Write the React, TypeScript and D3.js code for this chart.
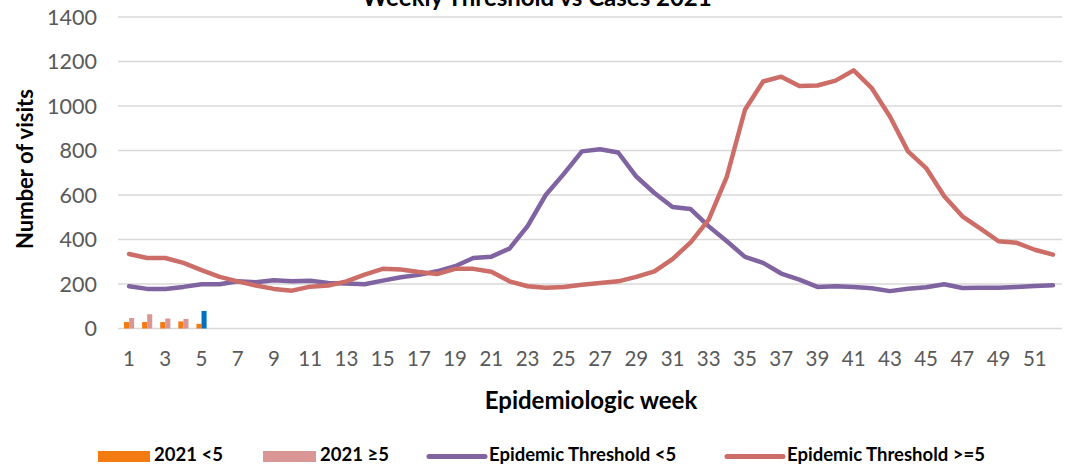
import React from "react";
import * as d3 from "d3";

// Epidemiologic weeks 1..52
const weeks: number[] = d3.range(1, 53);

// Weekly epidemic thresholds (visits)
const thresholdUnder5: number[] = [
  190, 178, 178, 187, 199, 199, 212, 208, 217, 212,
  215, 205, 202, 199, 215, 230, 241, 257, 280, 317,
  323, 359, 460, 600, 695, 796, 806, 791, 683, 609,
  546, 537, 459, 392, 322, 295, 247, 220, 187, 190,
  187, 181, 168, 179, 185, 199, 182, 183, 183, 187,
  191, 194,
];
const thresholdOver5: number[] = [
  335, 317, 317, 295, 262, 232, 212, 193, 178, 170,
  188, 193, 212, 242, 268, 265, 254, 245, 268, 268,
  255, 212, 190, 183, 187, 197, 205, 212, 232, 257,
  312, 387, 489, 683, 983, 1110, 1132, 1090, 1092, 1114,
  1160, 1080, 953, 796, 721, 594, 504, 449, 392, 385,
  354, 332,
];

// 2021 reported cases so far
const caseWeeks: number[] = [1, 2, 3, 4, 5];
const cases2021Under5: number[] = [29, 29, 29, 32, 21];
const cases2021Over5: number[] = [47, 64, 45, 43, 79];
const latestWeek = 5;

const yTicks: number[] = [0, 200, 400, 600, 800, 1000, 1200, 1400];
const xTickWeeks: number[] = weeks.filter((w) => w % 2 === 1);

const colors = {
  under5: "#F47A12",
  over5: "#DA9694",
  latest: "#0070C0",
  thrUnder5: "#8064A2",
  thrOver5: "#CD6D68",
  grid: "#D9D9D9",
  tick: "#595959",
};

const FONT = "Lato, 'Liberation Sans', sans-serif";

export default function App() {
  const width = 1066;
  const height = 466;
  const left = 120;
  const right = 1062;
  const top = 17;
  const bottom = 328.5;

  const x = d3.scaleBand<number>().domain(weeks).range([left, right]);
  const xc = (w: number) => (x(w) as number) + x.bandwidth() / 2;
  const y = d3.scaleLinear().domain([0, 1400]).range([bottom, top]);

  const sub = d3
    .scaleBand<string>()
    .domain(["under5", "over5"])
    .range([x.bandwidth() * 0.22, x.bandwidth() * 0.78])
    .paddingInner(0);

  const line = d3
    .line<number>()
    .x((_, i) => xc(weeks[i]))
    .y((d) => y(d));

  const legendItems = [
    { kind: "rect", color: colors.under5, label: "2021 <5", x0: 98, x1: 150 },
    { kind: "rect", color: colors.over5, label: "2021 ≥5", x0: 263, x1: 316 },
    { kind: "line", color: colors.thrUnder5, label: "Epidemic Threshold <5", x0: 429, x1: 485 },
    { kind: "line", color: colors.thrOver5, label: "Epidemic Threshold >=5", x0: 727, x1: 783 },
  ];

  return (
    <svg
      width={width}
      height={height}
      style={{ position: "absolute", left: 0, top: 0, background: "#fff" }}
      fontFamily={FONT}
    >
      <text
        x={537}
        y={6}
        textAnchor="middle"
        fontWeight="bold"
        fontSize={24}
        fill="#000"
      >
        Weekly Threshold vs Cases 2021
      </text>

      {/* grid */}
      {yTicks.map((t) => (
        <line
          key={t}
          x1={left - 2}
          x2={right}
          y1={y(t)}
          y2={y(t)}
          stroke={colors.grid}
          strokeWidth={1.5}
        />
      ))}

      {/* y tick labels */}
      {yTicks.map((t) => (
        <text
          key={t}
          x={97}
          y={y(t)}
          dy="0.35em"
          textAnchor="end"
          fontSize={21.5}
          fill={colors.tick}
        >
          {t}
        </text>
      ))}

      {/* x tick labels */}
      {xTickWeeks.map((w) => (
        <text
          key={w}
          x={xc(w)}
          y={366}
          textAnchor="middle"
          fontSize={20.5}
          fill={colors.tick}
        >
          {w}
        </text>
      ))}

      {/* case bars */}
      {caseWeeks.map((w, i) => (
        <g key={w} transform={`translate(${x(w)},0)`}>
          <rect
            x={sub("under5")}
            width={sub.bandwidth()}
            y={y(cases2021Under5[i])}
            height={y(0) - y(cases2021Under5[i])}
            fill={colors.under5}
          />
          <rect
            x={sub("over5")}
            width={sub.bandwidth()}
            y={y(cases2021Over5[i])}
            height={y(0) - y(cases2021Over5[i])}
            fill={w === latestWeek ? colors.latest : colors.over5}
          />
        </g>
      ))}

      {/* threshold lines */}
      <path
        d={line(thresholdUnder5) ?? ""}
        fill="none"
        stroke={colors.thrUnder5}
        strokeWidth={4.5}
        strokeLinejoin="round"
        strokeLinecap="round"
      />
      <path
        d={line(thresholdOver5) ?? ""}
        fill="none"
        stroke={colors.thrOver5}
        strokeWidth={4.5}
        strokeLinejoin="round"
        strokeLinecap="round"
      />

      {/* axis titles */}
      <text
        x={591}
        y={409}
        textAnchor="middle"
        fontWeight="bold"
        fontSize={24}
        fill="#000"
      >
        Epidemiologic week
      </text>
      <text
        transform={`translate(33,${169}) rotate(-90)`}
        textAnchor="middle"
        fontWeight="bold"
        fontSize={22}
        fill="#000"
      >
        Number of visits
      </text>

      {/* legend */}
      {legendItems.map((it) => (
        <g key={it.label}>
          {it.kind === "rect" ? (
            <rect x={it.x0} y={451} width={it.x1 - it.x0} height={11} fill={it.color} />
          ) : (
            <line
              x1={it.x0}
              x2={it.x1}
              y1={456.5}
              y2={456.5}
              stroke={it.color}
              strokeWidth={5}
              strokeLinecap="round"
            />
          )}
          <text
            x={it.x1 + 4}
            y={461}
            fontWeight="bold"
            fontSize={18.5}
            fill="#000"
          >
            {it.label}
          </text>
        </g>
      ))}
    </svg>
  );
}
